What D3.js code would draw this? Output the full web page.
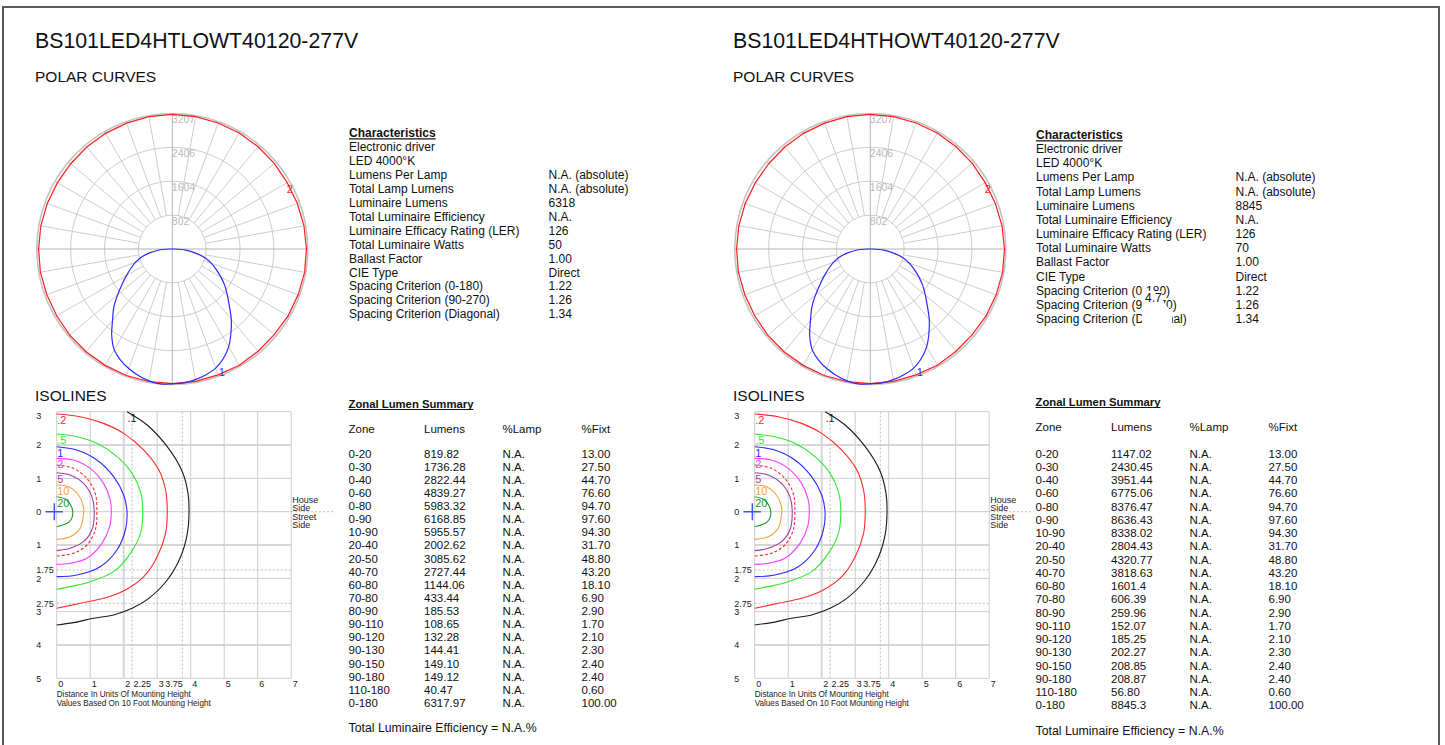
<!DOCTYPE html>
<html>
<head>
<meta charset="utf-8">
<script src="https://cdn.jsdelivr.net/npm/d3@7"></script>
<style>
  body { margin: 0; background: #fff; }
  text { font-family: "Liberation Sans", Arial, sans-serif; fill: #111; }
</style>
</head>
<body>
<svg id="chart" width="1445" height="745"></svg>
<script>
// ---- data ----
const titles = ["BS101LED4HTLOWT40120-277V", "BS101LED4HTHOWT40120-277V"]

// polar curves (candela), angle from nadir, negative = left half
const ringValues = [802, 1604, 2406, 3207]
const blueAngles = [-90, -85, -80, -75, -70, -65, -60, -55, -50, -45, -40, -35, -30, -25, -20, -15, -10, -5,
  0, 5, 10, 15, 20, 25, 30, 35, 40, 45, 50, 55, 60, 65, 70, 75, 80, 85, 90]
const blueCd = [60, 330, 560, 770, 930, 1080, 1250, 1450, 1690, 1960, 2200, 2500, 2750, 2900, 3010, 3100, 3170, 3205,
  3190, 3180, 3140, 3080, 3000, 2860, 2670, 2420, 2170, 1910, 1700, 1520, 1330, 1150, 980, 800, 560, 320, 60]
const redAngles = [0, 10, 20, 30, 40, 50, 60, 70, 80, 90, 100, 110, 120, 130, 140, 150, 160, 170,
  180, 190, 200, 210, 220, 230, 240, 250, 260, 270, 280, 290, 300, 310, 320, 330, 340, 350]
const redCd = [3185, 3180, 3170, 3175, 3160, 3150, 3165, 3170, 3180, 3175, 3165, 3150, 3140, 3150, 3160, 3170, 3175, 3180,
  3185, 3180, 3170, 3160, 3150, 3140, 3140, 3150, 3160, 3165, 3170, 3160, 3160, 3170, 3175, 3180, 3185, 3185]
const curveLabels = [{ t: "1", a: 22, v: 3130 }, { t: "2", a: 117, v: 3120 }]

// characteristics
const charLabels = ["Electronic driver", "LED 4000°K", "Lumens Per Lamp", "Total Lamp Lumens", "Luminaire Lumens",
  "Total Luminaire Efficiency", "Luminaire Efficacy Rating (LER)", "Total Luminaire Watts", "Ballast Factor",
  "CIE Type", "Spacing Criterion (0-180)", "Spacing Criterion (90-270)", "Spacing Criterion (Diagonal)"]
const charValuesA = ["", "", "N.A. (absolute)", "N.A. (absolute)", "6318", "N.A.", "126", "50", "1.00", "Direct", "1.22", "1.26", "1.34"]
const charValuesB = ["", "", "N.A. (absolute)", "N.A. (absolute)", "8845", "N.A.", "126", "70", "1.00", "Direct", "1.22", "1.26", "1.34"]

// zonal lumen summary
const zoneHeaders = ["Zone", "Lumens", "%Lamp", "%Fixt"]
const zones = ["0-20", "0-30", "0-40", "0-60", "0-80", "0-90", "10-90", "20-40", "20-50", "40-70", "60-80", "70-80",
  "80-90", "90-110", "90-120", "90-130", "90-150", "90-180", "110-180", "0-180"]
const lumensA = ["819.82", "1736.28", "2822.44", "4839.27", "5983.32", "6168.85", "5955.57", "2002.62", "3085.62",
  "2727.44", "1144.06", "433.44", "185.53", "108.65", "132.28", "144.41", "149.10", "149.12", "40.47", "6317.97"]
const lumensB = ["1147.02", "2430.45", "3951.44", "6775.06", "8376.47", "8636.43", "8338.02", "2804.43", "4320.77",
  "3818.63", "1601.4", "606.39", "259.96", "152.07", "185.25", "202.27", "208.85", "208.87", "56.80", "8845.3"]
const pctFixt = ["13.00", "27.50", "44.70", "76.60", "94.70", "97.60", "94.30", "31.70", "48.80", "43.20", "18.10",
  "6.90", "2.90", "1.70", "2.10", "2.30", "2.40", "2.40", "0.60", "100.00"]

// isolines, [distance, y] in mounting heights, y > 0 = house side
const isoX = [0, 1, 2, 2.25, 3, 3.75, 4, 5, 6, 7]
const isoY = [3, 2, 1, 0, -1, -1.75, -2, -2.75, -3, -4, -5]
const iso01 = [[2.1, 3.0], [2.7, 2.6], [3.3, 1.95], [3.75, 1.2], [3.92, 0.55], [3.95, 0], [3.9, -0.65], [3.7, -1.35],
  [3.3, -2.05], [2.75, -2.6], [2.25, -2.9], [1.7, -3.1], [1.1, -3.2], [0.5, -3.33], [0, -3.4]]
const iso02 = [[0, 2.93], [0.7, 2.85], [1.4, 2.65], [2.0, 2.35], [2.6, 1.85], [3.05, 1.25], [3.25, 0.65], [3.3, 0],
  [3.25, -0.65], [3.0, -1.35], [2.6, -1.95], [2.05, -2.35], [1.4, -2.6], [0.7, -2.75], [0, -2.9]]
const iso05 = [[0, 2.33], [0.6, 2.25], [1.2, 2.05], [1.8, 1.65], [2.25, 1.15], [2.5, 0.6], [2.57, 0], [2.5, -0.65],
  [2.2, -1.25], [1.7, -1.8], [1.0, -2.1], [0.4, -2.25], [0, -2.33]]
const iso1 = [[0, 1.95], [0.6, 1.85], [1.2, 1.55], [1.7, 1.05], [2.0, 0.5], [2.1, 0], [2.05, -0.55], [1.8, -1.15],
  [1.3, -1.65], [0.6, -1.9], [0, -1.95]]
const iso2 = [[0, 1.6], [0.5, 1.55], [1.0, 1.3], [1.4, 0.85], [1.6, 0.35], [1.63, 0], [1.58, -0.45], [1.35, -0.95],
  [0.9, -1.4], [0.4, -1.55], [0, -1.58]]
const isoHalf = [[0, 1.4], [0.5, 1.3], [0.9, 1.0], [1.15, 0.55], [1.2, 0], [1.15, -0.55], [0.9, -1.0], [0.5, -1.25], [0, -1.33]]
const iso5 = [[0, 1.17], [0.4, 1.1], [0.8, 0.85], [1.05, 0.45], [1.12, 0], [1.05, -0.55], [0.8, -0.9], [0.4, -1.1], [0, -1.17]]
const iso10 = [[0, 0.8], [0.35, 0.75], [0.65, 0.5], [0.8, 0.15], [0.8, -0.1], [0.7, -0.5], [0.4, -0.75], [0, -0.83]]
const iso20 = [[0, 0.45], [0.3, 0.35], [0.48, 0], [0.38, -0.3], [0, -0.45]]
const isoNames = [".1", ".2", ".5", "1", "2", "", "5", "10", "20"]
const isoLines = [iso01, iso02, iso05, iso1, iso2, isoHalf, iso5, iso10, iso20]
const luminaireAt = [-0.07, 0]

// ---- styles ----
const isoColors = ["#1a1a1a", "#ff2a2a", "#2ee82e", "#2b2bff", "#ff3cff", "#ff2a2a", "#9b3fa8", "#ffa040", "#1f9a2a"]
const gridGrey = "#cdcdcd"

const svg = d3.select('#chart')
svg.append('rect').attr('width', 1445).attr('height', 745).attr('fill', '#fff')

// page frame
svg.append('path')
  .attr('d', 'M3,745V7H1439V745')
  .attr('fill', 'none')
  .attr('stroke', '#5a5a5a')
  .attr('stroke-width', 2)

const panels = [
  { title: titles[0], dx: 0, tx: 0, chars: charValuesA, lumens: lumensA,
    charTop: 137, charStep: 13.95, zTitle: 407.5, zHead: 433, zRow: 457.5, zStep: 13.13, zFoot: 732 },
  { title: titles[1], dx: 698, tx: 687, chars: charValuesB, lumens: lumensB,
    charTop: 139, charStep: 14.15, zTitle: 405.5, zHead: 431, zRow: 457.5, zStep: 13.25, zFoot: 735 }
]

function underline(g, sel, y) {
  const node = sel.node()
  const w = node.getComputedTextLength()
  const x = +sel.attr('x')
  g.append('line').attr('x1', x).attr('x2', x + w).attr('y1', y).attr('y2', y)
    .attr('stroke', '#111').attr('stroke-width', 1.2)
}

function drawPolar(g, cx, cy) {
  const r = d3.scaleLinear().domain([0, d3.max(ringValues)]).range([0, 135.5])
  const rad = a => a * Math.PI / 180
  const pt = (a, v) => [cx + r(v) * Math.sin(rad(a)), cy + r(v) * Math.cos(rad(a))]

  const grid = g.append('g').attr('fill', 'none')
  grid.selectAll('circle').data(ringValues).join('circle')
    .attr('cx', cx).attr('cy', cy).attr('r', d => r(d))
    .attr('stroke', (d, i) => i === ringValues.length - 1 ? '#c4c4c4' : gridGrey)
    .attr('stroke-width', (d, i) => i === ringValues.length - 1 ? 1.6 : 1)

  // spokes every 10 degrees outside the first ring
  const spokes = d3.range(0, 360, 10).filter(a => a % 90 !== 0)
  grid.selectAll('line.spoke').data(spokes).join('line')
    .attr('class', 'spoke')
    .attr('x1', a => pt(a, ringValues[0])[0]).attr('y1', a => pt(a, ringValues[0])[1])
    .attr('x2', a => pt(a, d3.max(ringValues))[0]).attr('y2', a => pt(a, d3.max(ringValues))[1])
    .attr('stroke', gridGrey)
  // main axes through the centre
  grid.selectAll('line.axis').data([0, 90]).join('line')
    .attr('class', 'axis')
    .attr('x1', a => pt(a, d3.max(ringValues))[0]).attr('y1', a => pt(a, d3.max(ringValues))[1])
    .attr('x2', a => pt(a + 180, d3.max(ringValues))[0]).attr('y2', a => pt(a + 180, d3.max(ringValues))[1])
    .attr('stroke', '#b4b4b4')

  g.selectAll('text.ring').data(ringValues).join('text')
    .attr('class', 'ring')
    .attr('x', cx - 0.5)
    .attr('y', d => cy - r(d) + 9.5)
    .attr('font-size', 10.5)
    .style('fill', '#b9b9b9')
    .text(d => d)

  const line = d3.line().x(d => d[0]).y(d => d[1])
  const redPts = redAngles.map((a, i) => pt(a, redCd[i]))
  g.append('path').attr('d', line(redPts) + 'Z')
    .attr('fill', 'none').attr('stroke', '#ff1e1e').attr('stroke-width', 1.2)
  const bluePts = blueAngles.map((a, i) => pt(a, blueCd[i]))
  g.append('path').attr('d', d3.line().curve(d3.curveCatmullRom)(bluePts) + 'Z')
    .attr('fill', 'none').attr('stroke', '#2a2aff').attr('stroke-width', 1.2)

  g.selectAll('text.clab').data(curveLabels).join('text')
    .attr('class', 'clab')
    .attr('x', d => pt(d.a, d.v)[0] - 3)
    .attr('y', d => pt(d.a, d.v)[1] + 4)
    .attr('font-size', 11)
    .style('fill', (d, i) => i === 0 ? '#2a2aff' : '#ff1e1e')
    .text(d => d.t)
}

function drawIso(g, x0) {
  const x = d3.scaleLinear().domain([0, 7]).range([x0, x0 + 234.5])
  const y = d3.scaleLinear().domain([3, -5]).range([411.7, 678.3])
  const thickY = [2, -1, -4], thickX = [2]

  const grid = g.append('g')
  grid.selectAll('line.h').data(d3.range(-5, 4)).join('line')
    .attr('class', 'h')
    .attr('x1', x(0)).attr('x2', x(7)).attr('y1', d => y(d)).attr('y2', d => y(d))
    .attr('stroke', d => thickY.includes(d) ? '#d6d6d6' : gridGrey)
    .attr('stroke-width', d => thickY.includes(d) ? 2 : 1)
  grid.selectAll('line.v').data(d3.range(0, 8)).join('line')
    .attr('class', 'v')
    .attr('x1', d => x(d)).attr('x2', d => x(d)).attr('y1', y(3)).attr('y2', y(-5))
    .attr('stroke', d => thickX.includes(d) ? '#d6d6d6' : gridGrey)
    .attr('stroke-width', d => thickX.includes(d) ? 2 : 1)

  // dashed reference lines
  const dash = g.append('g').attr('stroke', '#bdbdbd').attr('stroke-dasharray', '2,2')
  dash.selectAll('line.dv').data([2.25, 3.75]).join('line')
    .attr('class', 'dv')
    .attr('x1', d => x(d)).attr('x2', d => x(d)).attr('y1', y(3)).attr('y2', y(-5))
  dash.selectAll('line.dh').data([-1.75, -2.75]).join('line')
    .attr('class', 'dh')
    .attr('x1', x(0)).attr('x2', x(7)).attr('y1', d => y(d)).attr('y2', d => y(d))
  dash.append('line').attr('x1', x(7)).attr('x2', x(7) + 42).attr('y1', y(0)).attr('y2', y(0))

  // axes
  const yAxis = d3.axisLeft(y).tickValues(isoY).tickFormat(d => Math.abs(d)).tickSize(0)
  const ya = g.append('g').attr('transform', `translate(${x(0)},0)`).call(yAxis)
  ya.select('.domain').remove()
  ya.selectAll('text').attr('text-anchor', 'start').attr('x', -20.5)
    .attr('y', d => d === 3 ? 4 : 0)
    .style('font-family', '"Liberation Sans", Arial, sans-serif').style('font-size', '9px').style('fill', '#222')

  const xAxis = d3.axisBottom(x).tickValues(isoX).tickFormat(d => d).tickSize(0)
  const xa = g.append('g').attr('transform', `translate(0,${y(-5)})`).call(xAxis)
  xa.select('.domain').remove()
  xa.selectAll('text').attr('text-anchor', d => d === 3.75 ? 'end' : 'start')
    .attr('x', d => d === 3.75 ? 0 : 1).attr('y', 2)
    .style('font-family', '"Liberation Sans", Arial, sans-serif').style('font-size', '9px').style('fill', '#222')

  g.append('text').attr('x', x(0)).attr('y', y(-5) + 19).attr('font-size', 9)
    .attr('textLength', 134).attr('lengthAdjust', 'spacingAndGlyphs')
    .style('fill', '#222').text('Distance In Units Of Mounting Height')
  g.append('text').attr('x', x(0)).attr('y', y(-5) + 27.5).attr('font-size', 9)
    .attr('textLength', 154).attr('lengthAdjust', 'spacingAndGlyphs')
    .style('fill', '#222').text('Values Based On 10 Foot Mounting Height')

  g.selectAll('text.side').data(['House', 'Side', 'Street', 'Side']).join('text')
    .attr('class', 'side')
    .attr('x', x(7) + 1)
    .attr('y', (d, i) => y(0) - 8.5 + i * 8.3)
    .attr('font-size', 9).style('fill', '#222')
    .text(d => d)

  // contour lines
  const line = d3.line().x(d => x(d[0])).y(d => y(d[1])).curve(d3.curveCatmullRom)
  g.selectAll('path.iso').data(isoLines).join('path')
    .attr('class', 'iso')
    .attr('d', line)
    .attr('fill', 'none')
    .attr('stroke', (d, i) => isoColors[i])
    .attr('stroke-dasharray', (d, i) => isoNames[i] === '' ? '3,2' : null)
    .attr('stroke-width', 1.1)
  g.selectAll('text.isolab').data(isoLines).join('text')
    .attr('class', 'isolab')
    .attr('x', d => x(d[0][0]) + 0.5)
    .attr('y', d => y(d[0][1]) + 10)
    .attr('font-size', 11)
    .style('fill', (d, i) => isoColors[i])
    .text((d, i) => isoNames[i])

  // luminaire marker
  const cx = x(luminaireAt[0]), cy = y(luminaireAt[1])
  g.append('path').attr('d', `M${cx - 9},${cy}H${cx + 8.5}M${cx},${cy - 8.5}V${cy + 8.5}`)
    .attr('stroke', '#3a55ff').attr('stroke-width', 1.5)
}

panels.forEach(p => {
  const g = svg.append('g')
  g.append('text').attr('x', 35 + p.dx).attr('y', 48).attr('font-size', 21.3).text(p.title)
  g.append('text').attr('x', 35 + p.dx).attr('y', 82).attr('font-size', 15.5).text('POLAR CURVES')
  g.append('text').attr('x', 35 + p.dx).attr('y', 401).attr('font-size', 15.5).text('ISOLINES')

  drawPolar(g.append('g'), 172.3 + p.dx, 249)
  drawIso(g.append('g'), 56.7 + p.dx)

  // characteristics
  const cx = 349 + p.tx
  const ch = g.append('text').attr('x', cx).attr('y', p.charTop).attr('font-size', 12)
    .attr('font-weight', 'bold').text('Characteristics')
  underline(g, ch, p.charTop + 1.8)
  g.selectAll('text.cl').data(charLabels).join('text').attr('class', 'cl')
    .attr('x', cx).attr('y', (d, i) => p.charTop + (i + 1) * p.charStep).attr('font-size', 12).text(d => d)
  g.selectAll('text.cv').data(p.chars).join('text').attr('class', 'cv')
    .attr('x', cx + 199.5).attr('y', (d, i) => p.charTop + (i + 1) * p.charStep).attr('font-size', 12).text(d => d)

  // zonal lumen summary
  const zx = 348.5 + p.tx
  const cols = [0, 75.5, 154, 233]
  const zt = g.append('text').attr('x', zx).attr('y', p.zTitle).attr('font-size', 11.3)
    .attr('font-weight', 'bold').text('Zonal Lumen Summary')
  underline(g, zt, p.zTitle + 2)
  g.selectAll('text.zh').data(zoneHeaders).join('text').attr('class', 'zh')
    .attr('x', (d, i) => zx + cols[i]).attr('y', p.zHead).attr('font-size', 11.5).text(d => d)
  const rows = zones.map((z, i) => [z, p.lumens[i], 'N.A.', pctFixt[i]])
  g.selectAll('g.zr').data(rows).join('g').attr('class', 'zr')
    .attr('transform', (d, i) => `translate(0,${p.zRow + i * p.zStep})`)
    .selectAll('text').data(d => d).join('text')
    .attr('x', (d, i) => zx + cols[i]).attr('font-size', 11.5).text(d => d)
  g.append('text').attr('x', zx).attr('y', p.zFoot).attr('font-size', 12.3)
    .text('Total Luminaire Efficiency = N.A.%')
})

// stray label that covers part of the right-hand characteristics list
svg.append('path').attr('d', 'M1142,291H1161L1164,303L1172,312V326H1142Z').attr('fill', '#fff')
svg.append('text').attr('x', 1145).attr('y', 302).attr('font-size', 12).text('4.7')
</script>
</body>
</html>
